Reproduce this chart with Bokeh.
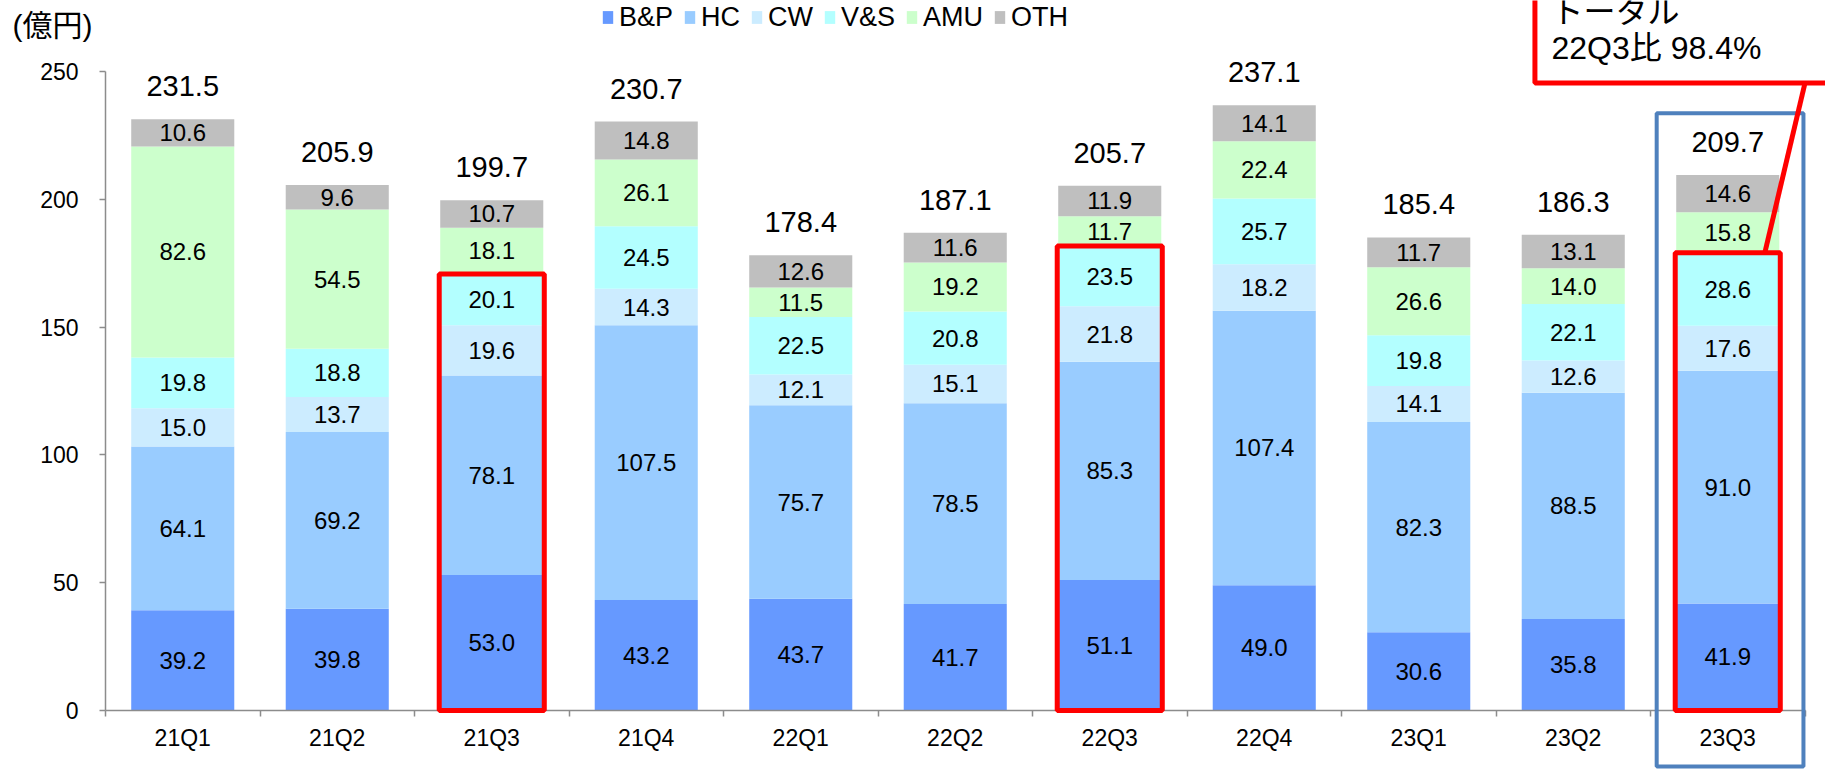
from bokeh.plotting import figure
from bokeh.models import (ColumnDataSource, FixedTicker, Range1d, Label, BoxAnnotation,
                          Arrow, Legend, LegendItem)
from bokeh.core.properties import value
from bokeh.embed import file_html
from bokeh.resources import INLINE

# ---------------- data ----------------
quarters = ["21Q1", "21Q2", "21Q3", "21Q4", "22Q1", "22Q2", "22Q3", "22Q4", "23Q1", "23Q2", "23Q3"]
series_names = ["B&P", "HC", "CW", "V&S", "AMU", "OTH"]
bp = [39.2, 39.8, 53.0, 43.2, 43.7, 41.7, 51.1, 49.0, 30.6, 35.8, 41.9]
hc = [64.1, 69.2, 78.1, 107.5, 75.7, 78.5, 85.3, 107.4, 82.3, 88.5, 91.0]
cw = [15.0, 13.7, 19.6, 14.3, 12.1, 15.1, 21.8, 18.2, 14.1, 12.6, 17.6]
vs = [19.8, 18.8, 20.1, 24.5, 22.5, 20.8, 23.5, 25.7, 19.8, 22.1, 28.6]
amu = [82.6, 54.5, 18.1, 26.1, 11.5, 19.2, 11.7, 22.4, 26.6, 14.0, 15.8]
oth = [10.6, 9.6, 10.7, 14.8, 12.6, 11.6, 11.9, 14.1, 11.7, 13.1, 14.6]
totals = [231.5, 205.9, 199.7, 230.7, 178.4, 187.1, 205.7, 237.1, 185.4, 186.3, 209.7]
y_ticks = [0, 50, 100, 150, 200, 250]
highlight_quarters = ["21Q3", "22Q3", "23Q3"]
current_quarter = "23Q3"
unit_label = "(億円)"
callout_lines = ["トータル", "22Q3比 98.4%"]

colors = ["#6699FF", "#99CCFF", "#CCECFF", "#B3FFFF", "#CCFFCC", "#BFBFBF"]
series_values = [bp, hc, cw, vs, amu, oth]

FONT = "Liberation Sans"
CJK_FONT = "'Liberation Sans', 'Noto Sans CJK JP', sans-serif"

n = len(quarters)
xs = list(range(n))

data = {"x": xs}
for name, vals in zip(series_names, series_values):
    data[name] = vals
source = ColumnDataSource(data)

# ---------------- layout ----------------
W, H = 1825, 770
cat_px = 154.5          # pixel width of one category
x0_px = 105             # left edge of the axis (pixels)
y0_px = 710             # y=0 (pixels from top)
px_per_unit = 2.556
x_start = -0.5 - x0_px / cat_px
x_end = x_start + W / cat_px
y_start = -(H - y0_px) / px_per_unit
y_end = y_start + H / px_per_unit

p = figure(width=W, height=H, x_range=Range1d(x_start, x_end), y_range=Range1d(y_start, y_end),
           output_backend="svg", toolbar_location=None, min_border=0,
           min_border_left=0, min_border_right=0, min_border_top=0, min_border_bottom=0)
p.outline_line_color = None
p.xgrid.visible = False
p.ygrid.visible = False
p.background_fill_color = "white"
p.border_fill_color = "white"

renderers = p.vbar_stack(series_names, x="x", width=0.667, color=colors, source=source,
                         line_color=None)

# segment labels
lx, ly, lt = [], [], []
cum = [0.0] * n
for vals in series_values:
    for i, v in enumerate(vals):
        lx.append(i)
        ly.append(cum[i] + v / 2.0)
        lt.append(f"{v:.1f}")
        cum[i] += v
stack_tops = cum[:]
p.text(x=lx, y=ly, text=lt, text_align="center", text_baseline="middle",
       text_font=value(FONT), text_font_size="24px", text_color="#000000")

# total labels
p.text(x=xs, y=stack_tops, text=[f"{t:.1f}" for t in totals], text_align="center",
       text_baseline="middle", y_offset=-33, text_font=value(FONT),
       text_font_size="29px", text_color="#000000")

# axes (fixed inside the frame)
axis_gray = "#8C8C8C"
p.yaxis.fixed_location = -0.5
p.yaxis.bounds = (0, 250)
p.yaxis.ticker = FixedTicker(ticks=y_ticks)
p.yaxis.major_tick_out = 6
p.yaxis.major_tick_in = 0
p.yaxis.minor_tick_line_color = None
p.yaxis.axis_line_color = axis_gray
p.yaxis.axis_line_width = 1.5
p.yaxis.major_tick_line_color = axis_gray
p.yaxis.major_tick_line_width = 1.5
p.yaxis.major_label_standoff = 21
p.yaxis.major_label_text_font = FONT
p.yaxis.major_label_text_font_size = "23px"
p.yaxis.major_label_text_color = "#000000"

p.xaxis.fixed_location = 0
p.xaxis.bounds = (-0.5, n - 0.5)
p.xaxis.ticker = FixedTicker(ticks=xs, minor_ticks=[i - 0.5 for i in range(n + 1)])
p.xaxis.major_label_overrides = {i: q for i, q in enumerate(quarters)}
p.xaxis.major_tick_line_color = None
p.xaxis.minor_tick_line_color = axis_gray
p.xaxis.minor_tick_line_width = 1.5
p.xaxis.minor_tick_out = 6
p.xaxis.minor_tick_in = 0
p.xaxis.axis_line_color = axis_gray
p.xaxis.axis_line_width = 1.5
p.xaxis.major_label_standoff = 8
p.xaxis.major_label_text_font = FONT
p.xaxis.major_label_text_font_size = "23px"
p.xaxis.major_label_text_color = "#000000"

# legend (location = bottom-left corner, measured from the frame's bottom-left)
items = [LegendItem(label=name, renderers=[r]) for name, r in zip(series_names, renderers)]
legend = Legend(items=items, orientation="horizontal", location=(601, 736),
                glyph_width=13, glyph_height=16, label_standoff=5, spacing=10,
                label_height=34, padding=0, margin=0, border_line_color=None,
                background_fill_alpha=0,
                label_text_font=FONT, label_text_font_size="27px",
                label_text_color="#000000")
p.add_layout(legend, "center")

# unit label
p.add_layout(Label(x=12, y=745, x_units="screen", y_units="screen", text=unit_label,
                   text_font=CJK_FONT, text_font_size="30px", text_baseline="middle",
                   text_color="#000000"))

# highlight boxes (first four series)
sum4 = [bp[i] + hc[i] + cw[i] + vs[i] for i in range(n)]
for q in highlight_quarters:
    i = quarters.index(q)
    p.add_layout(BoxAnnotation(left=i - 0.34, right=i + 0.34, bottom=0, top=sum4[i],
                               fill_alpha=0, line_color="#FF0000", line_alpha=1,
                               line_width=5))

# current quarter blue frame
ci = quarters.index(current_quarter)
p.add_layout(BoxAnnotation(left=ci - 0.46, right=ci + 0.49, bottom=-21.9, top=totals[ci] + 24,
                           fill_alpha=0, line_color="#4F81BD", line_alpha=1, line_width=4))

# callout
p.add_layout(BoxAnnotation(left=8.752, right=11.5, bottom=245.5, top=320,
                           fill_color="white", fill_alpha=1, line_color="#FF0000",
                           line_alpha=1, line_width=5))
p.add_layout(Arrow(end=None, x_start=10.5, y_start=245.5, x_end=ci + 0.24, y_end=sum4[ci],
                   line_color="#FF0000", line_width=5))
p.add_layout(Label(x=1551, y=741, x_units="screen", y_units="screen", text=callout_lines[0],
                   text_font=CJK_FONT, text_font_size="32px", text_color="#000000"))
p.add_layout(Label(x=1551, y=705, x_units="screen", y_units="screen", text=callout_lines[1],
                   text_font=CJK_FONT, text_font_size="32px", text_color="#000000"))

open("out.html", "w").write(file_html(p, INLINE))
